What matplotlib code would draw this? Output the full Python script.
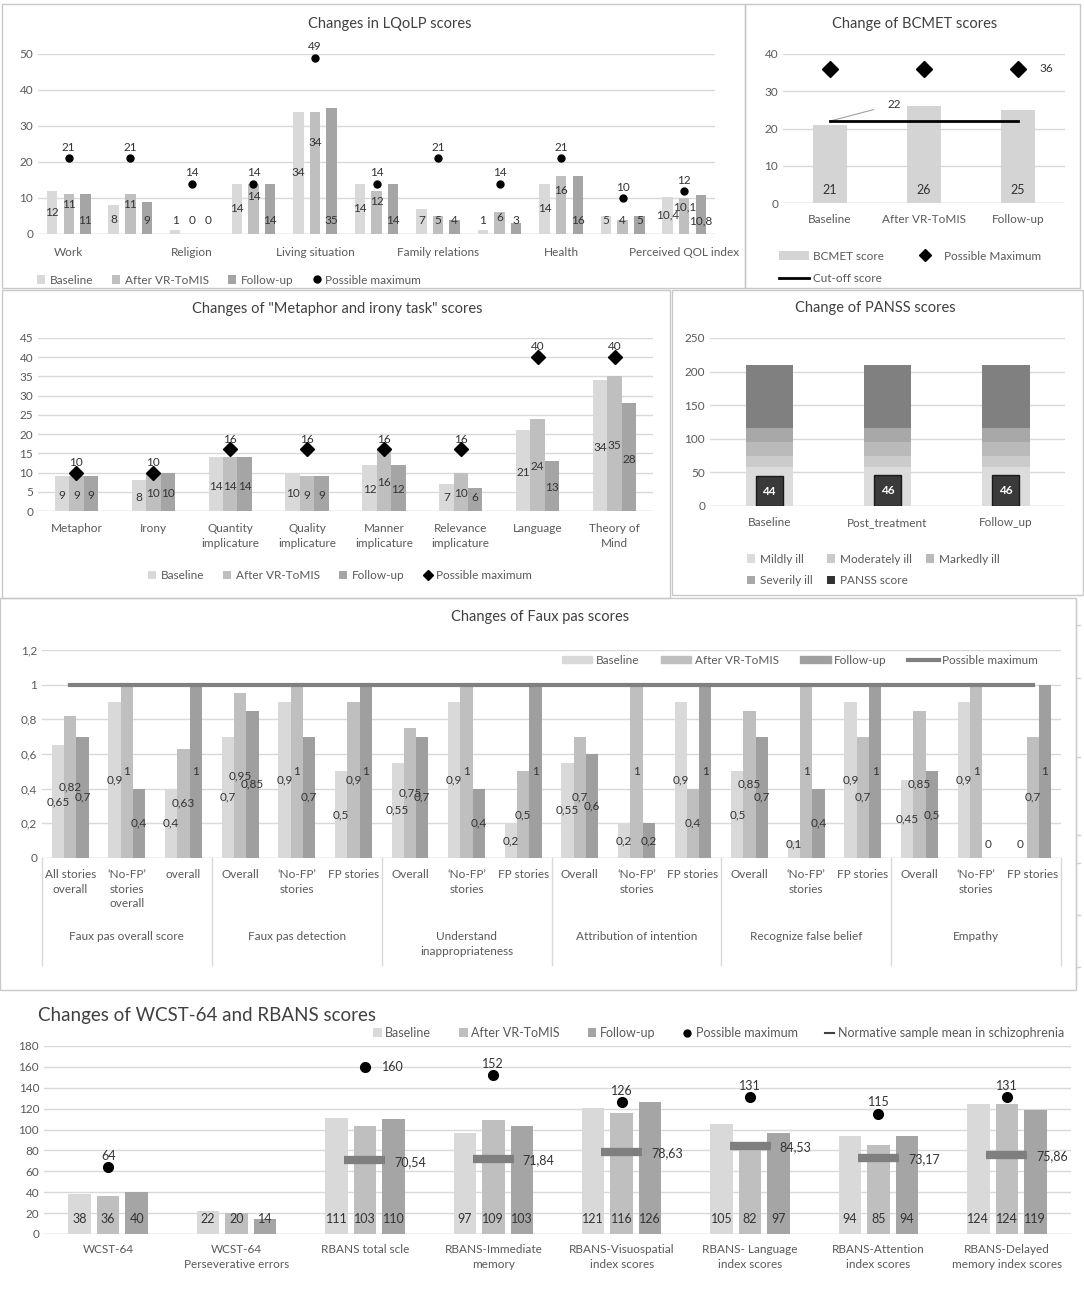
import numpy as np
import matplotlib
matplotlib.use('Agg')
import matplotlib.pyplot as plt
from matplotlib.patches import Rectangle, Patch
from matplotlib.lines import Line2D

plt.rcParams['font.family'] = ['Lato', 'DejaVu Sans']

# ---- data ----
lq_cats = ['Work', '', 'Religion', '', 'Living situation', '', 'Family relations', '', 'Health', '', 'Perceived QOL index']
lq_base = [12, 8, 1, 14, 34, 14, 7, 1, 14, 5, 10.4]
lq_after = [11, 11, 0, 14, 34, 12, 5, 6, 16, 4, 10.1]
lq_follow = [11, 9, 0, 14, 35, 14, 4, 3, 16, 5, 10.8]
lq_max = [21, 21, 14, 14, 49, 14, 21, 14, 21, 10, 12]

bc_cats = ['Baseline', 'After VR-ToMIS', 'Follow-up']
bc_score = [21, 26, 25]
bc_max = [36, 36, 36]
bc_cutoff = [22, 22, 22]

mi_cats = ['Metaphor', 'Irony', 'Quantity\nimplicature', 'Quality\nimplicature', 'Manner\nimplicature',
           'Relevance\nimplicature', 'Language', 'Theory of\nMind']
mi_base = [9, 8, 14, 10, 12, 7, 21, 34]
mi_after = [9, 10, 14, 9, 16, 10, 24, 35]
mi_follow = [9, 10, 14, 9, 12, 6, 13, 28]
mi_max = [10, 10, 16, 16, 16, 16, 40, 40]

pn_cats = ['Baseline', 'Post_treatment', 'Follow_up']
pn_mildly = [58, 58, 58]
pn_moderately = [17, 17, 17]
pn_markedly = [20, 20, 20]
pn_severely = [21, 21, 21]
pn_rest = [94, 94, 94]
pn_score = [44, 46, 46]

fp_groups = ['Faux pas overall score', 'Faux pas detection', 'Understand\ninappropriateness',
             'Attribution of intention', 'Recognize false belief', 'Empathy']
fp_sub = ['All stories\noverall', '\u2018No-FP\u2019\nstories\noverall', 'overall',
          'Overall', '\u2018No-FP\u2019\nstories', 'FP stories',
          'Overall', '\u2018No-FP\u2019\nstories', 'FP stories',
          'Overall', '\u2018No-FP\u2019\nstories', 'FP stories',
          'Overall', '\u2018No-FP\u2019\nstories', 'FP stories',
          'Overall', '\u2018No-FP\u2019\nstories', 'FP stories']
fp_base = [0.65, 0.9, 0.4, 0.7, 0.9, 0.5, 0.55, 0.9, 0.2, 0.55, 0.2, 0.9, 0.5, 0.1, 0.9, 0.45, 0.9, 0]
fp_after = [0.82, 1, 0.63, 0.95, 1, 0.9, 0.75, 1, 0.5, 0.7, 1, 0.4, 0.85, 1, 0.7, 0.85, 1, 0.7]
fp_follow = [0.7, 0.4, 1, 0.85, 0.7, 1, 0.7, 0.4, 1, 0.6, 0.2, 1, 0.7, 0.4, 1, 0.5, 0, 1]
fp_max = [1] * 18

wc_cats = ['WCST-64', 'WCST-64\nPerseverative errors', 'RBANS total scle', 'RBANS-Immediate\nmemory',
           'RBANS-Visuospatial\nindex scores', 'RBANS- Language\nindex scores',
           'RBANS-Attention\nindex scores', 'RBANS-Delayed\nmemory index scores']
wc_base = [38, 22, 111, 97, 121, 105, 94, 124]
wc_after = [36, 20, 103, 109, 116, 82, 85, 124]
wc_follow = [40, 14, 110, 103, 126, 97, 94, 119]
wc_max = [64, np.nan, 160, 152, 126, 131, 115, 131]
wc_norm = [np.nan, np.nan, 70.54, 71.84, 78.63, 84.53, 73.17, 75.86]

# ---- style ----
C_BASE = '#d9d9d9'
C_AFTER = '#bfbfbf'
C_FOLLOW = '#a5a5a5'
GRID = '#d9d9d9'
TXT = '#595959'
LAB = '#333333'
TITLE = '#404040'

W, H = 1084, 1309
fig = plt.figure(figsize=(W / 100, H / 100), dpi=100)


def fx(x):
    return x / W


def fy(y):
    return 1 - y / H


def add_ax(l, t, r, b):
    return fig.add_axes([l / W, 1 - b / H, (r - l) / W, (b - t) / H])


def box(l, t, r, b):
    fig.patches.append(Rectangle((fx(l), fy(b)), (r - l) / W, (b - t) / H, transform=fig.transFigure,
                                 fill=False, edgecolor='#c8c8c8', lw=1))


def style(ax, ymax, step, fs=8.5, fmt=None):
    ax.set_ylim(0, ymax)
    ticks = np.arange(0, ymax + step / 2, step)
    ax.set_yticks(ticks)
    if fmt:
        ax.set_yticklabels([fmt(t) for t in ticks])
    ax.yaxis.grid(True, color=GRID, lw=1)
    ax.set_axisbelow(True)
    for s in ax.spines.values():
        s.set_visible(False)
    ax.tick_params(length=0, labelsize=fs, colors=TXT)
    ax.axhline(0, color=GRID, lw=1, zorder=0.5)


def num(v):
    return ('%g' % v).replace('.', ',')


def sq(c):
    return Patch(facecolor=c, edgecolor='none')


# ---- panel borders ----
box(2, 4, 745, 288)
box(745, 4, 1080, 288)
box(2, 290, 670, 598)
box(672, 290, 1083, 595)
box(0, 598, 1076, 990)
fig.add_artist(Line2D([fx(1076), fx(1076)], [fy(600), fy(985)], color='#d0d0d0', lw=1))
for ty in [625, 678, 757, 835, 863, 915, 967]:
    fig.add_artist(Line2D([fx(1076), fx(1080)], [fy(ty), fy(ty)], color='#d0d0d0', lw=1))

# ---- LQoLP ----
ax = add_ax(38, 54, 715, 234)
style(ax, 50, 10)
x = np.arange(len(lq_cats))
bw, off = 0.17, 0.27
ax.bar(x - off, lq_base, bw, color=C_BASE)
ax.bar(x, lq_after, bw, color=C_AFTER)
ax.bar(x + off, lq_follow, bw, color=C_FOLLOW)
ax.plot(x, lq_max, 'o', color='black', ms=5, zorder=5)
for i in range(len(x)):
    ax.text(x[i] - off, max(lq_base[i] / 2, 3.7), num(lq_base[i]), ha='center', va='center', fontsize=8.5, color=LAB)
    ax.text(x[i], max(lq_after[i] * 0.75, 3.7), num(lq_after[i]), ha='center', va='center', fontsize=8.5, color=LAB)
    ax.text(x[i] + off, 3.7, num(lq_follow[i]), ha='center', va='center', fontsize=8.5, color=LAB)
    ax.text(x[i], lq_max[i] + 3, num(lq_max[i]), ha='center', va='center', fontsize=8.5, color=LAB)
ax.set_xlim(-0.5, len(x) - 0.5)
ax.set_xticks(x, lq_cats)
ax.tick_params(axis='x', pad=9)
fig.text(fx(390), fy(24), 'Changes in LQoLP scores', ha='center', va='center', fontsize=10.5, color=TITLE)
fig.legend([sq(C_BASE), sq(C_AFTER), sq(C_FOLLOW),
            Line2D([], [], marker='o', color='black', ls='', ms=5)],
           ['Baseline', 'After VR-ToMIS', 'Follow-up', 'Possible maximum'],
           loc='center left', bbox_to_anchor=(fx(26), fy(280)), ncol=4, frameon=False, fontsize=8.5,
           handlelength=0.7, handleheight=0.7, handletextpad=0.4, columnspacing=1.6, labelcolor=TXT)

# ---- BCMET ----
ax = add_ax(783, 54, 1065, 203)
style(ax, 40, 10)
x = np.arange(len(bc_cats))
ax.bar(x, bc_score, 0.37, color='#d4d4d4')
ax.plot(x, bc_cutoff, color='black', lw=2, zorder=4)
ax.plot(x, bc_max, 'D', color='black', ms=8, zorder=5)
for i in range(len(x)):
    ax.text(x[i], 3.4, num(bc_score[i]), ha='center', va='center', fontsize=9, color=LAB)
ax.text(x[-1] + 0.3, bc_max[-1], num(bc_max[-1]), ha='center', va='center', fontsize=8.5, color=LAB)
ax.annotate(num(bc_cutoff[0]), xy=(x[0], bc_cutoff[0]), xytext=(0.68, 26.5), fontsize=8.5, color=LAB,
            va='center', ha='center',
            arrowprops=dict(arrowstyle='-', color='#a0a0a0', lw=0.8, shrinkA=8, shrinkB=0))
ax.set_xlim(-0.5, 2.5)
ax.set_xticks(x, bc_cats)
ax.tick_params(axis='x', pad=8)
fig.text(fx(915), fy(24), 'Change of BCMET scores', ha='center', va='center', fontsize=10.5, color=TITLE)
fig.legend([sq('#d4d4d4'), Line2D([], [], color='black', lw=2),
            Line2D([], [], marker='D', color='black', ls='', ms=6)],
           ['BCMET score', 'Cut-off score', 'Possible Maximum'],
           loc='upper left', bbox_to_anchor=(fx(768), fy(240)), ncol=2, frameon=False, fontsize=8.5,
           handlelength=2.6, handleheight=0.8, handletextpad=0.3, columnspacing=2.2, labelspacing=1.0,
           labelcolor=TXT)

# ---- Metaphor and irony ----
ax = add_ax(38, 338, 653, 511)
style(ax, 45, 5)
x = np.arange(len(mi_cats))
bw = 0.187
ax.bar(x - bw, mi_base, bw, color=C_BASE)
ax.bar(x, mi_after, bw, color=C_AFTER)
ax.bar(x + bw, mi_follow, bw, color=C_FOLLOW)
ax.plot(x, mi_max, 'D', color='black', ms=7, zorder=5)
for i in range(len(x)):
    for dx, v in [(-bw, mi_base[i]), (0, mi_after[i]), (bw, mi_follow[i])]:
        ax.text(x[i] + dx, max(v / 2 - 0.5, 3.6), num(v), ha='center', va='center', fontsize=8.5, color=LAB)
    ax.text(x[i], mi_max[i] + 2.7, num(mi_max[i]), ha='center', va='center', fontsize=8.5, color=LAB)
ax.set_xlim(-0.5, len(x) - 0.5)
ax.set_xticks(x, mi_cats, linespacing=1.35)
ax.tick_params(axis='x', pad=9)
fig.text(fx(337), fy(309), 'Changes of "Metaphor and irony task" scores', ha='center', va='center',
         fontsize=10.5, color=TITLE)
fig.legend([sq(C_BASE), sq(C_AFTER), sq(C_FOLLOW),
            Line2D([], [], marker='D', color='black', ls='', ms=5)],
           ['Baseline', 'After VR-ToMIS', 'Follow-up', 'Possible maximum'],
           loc='center', bbox_to_anchor=(fx(340), fy(576)), ncol=4, frameon=False, fontsize=8.5,
           handlelength=0.7, handleheight=0.7, handletextpad=0.4, columnspacing=1.6, labelcolor=TXT)

# ---- PANSS ----
ax = add_ax(710, 338, 1065, 506)
style(ax, 250, 50)
x = np.arange(len(pn_cats))
sw = 0.40
bands = [(pn_mildly, '#dcdcdc'), (pn_moderately, '#cbcbcb'), (pn_markedly, '#bababa'),
         (pn_severely, '#a8a8a8'), (pn_rest, '#808080')]
bottom = np.zeros(len(x))
for vals, c in bands:
    ax.bar(x, vals, sw, bottom=bottom, color=c)
    bottom += np.array(vals)
ax.bar(x, pn_score, 0.23, color='#3a3a3a', edgecolor='#1a1a1a', lw=1, zorder=3)
for i in range(len(x)):
    ax.text(x[i], pn_score[i] / 2, num(pn_score[i]), ha='center', va='center', fontsize=8.5,
            color='white', fontweight='bold', zorder=4)
ax.set_xlim(-0.5, 2.5)
ax.set_xticks(x, pn_cats)
ax.tick_params(axis='x', pad=8)
fig.text(fx(875), fy(308), 'Change of PANSS scores', ha='center', va='center', fontsize=10.5, color=TITLE)
fig.legend([sq('#dcdcdc'), sq('#a8a8a8'), sq('#cbcbcb'), sq('#333333'), sq('#bababa')],
           ['Mildly ill', 'Severily ill', 'Moderately ill', 'PANSS score', 'Markedly ill'],
           loc='upper left', bbox_to_anchor=(fx(736), fy(543)), ncol=3, frameon=False, fontsize=8.5,
           handlelength=0.7, handleheight=0.7, handletextpad=0.4, columnspacing=1.2, labelspacing=0.9,
           labelcolor=TXT)

# ---- Faux pas ----
ax = add_ax(42, 650, 1061, 858)
style(ax, 1.2, 0.2, fmt=num)
x = np.arange(len(fp_sub))
bw = 0.217
ax.bar(x - bw, fp_base, bw, color=C_BASE)
ax.bar(x, fp_after, bw, color=C_AFTER)
ax.bar(x + bw, fp_follow, bw, color='#9f9f9f')
ax.plot(x, fp_max, color='#808080', lw=3, zorder=4)
for i in range(len(x)):
    for dx, v in [(-bw, fp_base[i]), (0, fp_after[i]), (bw, fp_follow[i])]:
        ax.text(x[i] + dx, max(v / 2, 0.08), num(v), ha='center', va='center', fontsize=8.5, color=LAB, zorder=6)
ax.set_xlim(-0.5, len(x) - 0.5)
ax.set_xticks(x, fp_sub, linespacing=1.4, va='top')
ax.tick_params(axis='x', pad=8)
trans = ax.get_xaxis_transform()
for g in range(len(fp_groups) + 1):
    xb = g * 3 - 0.5
    ax.plot([xb, xb], [0, -0.514], transform=trans, color=GRID, lw=1, clip_on=False)
for g, name in enumerate(fp_groups):
    ax.text(g * 3 + 1, -0.352, name, transform=trans, ha='center', va='top', fontsize=8.5,
            color=TXT, linespacing=1.4)
fig.text(fx(540), fy(617), 'Changes of Faux pas scores', ha='center', va='center', fontsize=10.5, color=TITLE)
fig.legend([Patch(color=C_BASE), Patch(color=C_AFTER), Patch(color='#9f9f9f'),
            Line2D([], [], color='#808080', lw=3)],
           ['Baseline', 'After VR-ToMIS', 'Follow-up', 'Possible maximum'],
           loc='center', bbox_to_anchor=(fx(800), fy(660)), ncol=4, frameon=False, fontsize=8.5,
           handlelength=2.6, handleheight=0.6, handletextpad=0.3, columnspacing=1.8, labelcolor=TXT)

# ---- WCST / RBANS ----
ax = add_ax(44, 1046, 1071, 1234)
style(ax, 180, 20)
x = np.arange(len(wc_cats))
bw, off = 0.175, 0.222
ax.bar(x - off, wc_base, bw, color=C_BASE)
ax.bar(x, wc_after, bw, color=C_AFTER)
ax.bar(x + off, wc_follow, bw, color=C_FOLLOW)
ax.plot(x, wc_max, 'o', color='black', ms=7, zorder=5)
norm = np.array(wc_norm)
ok = ~np.isnan(norm)
ax.hlines(norm[ok], x[ok] - 0.16, x[ok] + 0.16, color='#7f7f7f', lw=6, zorder=4)
for i in range(len(x)):
    for dx, v in [(-off, wc_base[i]), (0, wc_after[i]), (off, wc_follow[i])]:
        ax.text(x[i] + dx, 14, num(v), ha='center', va='center', fontsize=9, color=LAB)
    if not np.isnan(wc_max[i]):
        if wc_cats[i] == 'RBANS total scle':
            ax.text(x[i] + 0.13, wc_max[i], num(wc_max[i]), ha='left', va='center', fontsize=9, color=LAB)
        else:
            ax.text(x[i], wc_max[i] + 11, num(wc_max[i]), ha='center', va='center', fontsize=9, color=LAB)
    if not np.isnan(norm[i]):
        ax.text(x[i] + 0.23, norm[i] - 1.5, num(norm[i]), ha='left', va='center', fontsize=9, color=LAB, zorder=6)
ax.set_xlim(-0.5, len(x) - 0.5)
ax.set_xticks(x, wc_cats, linespacing=1.5)
ax.tick_params(axis='x', pad=7)
fig.text(fx(38), fy(1015), 'Changes of WCST-64 and RBANS scores', ha='left', va='center', fontsize=13.5,
         color=TITLE)
fig.legend([sq(C_BASE), sq(C_AFTER), sq(C_FOLLOW),
            Line2D([], [], marker='o', color='black', ls='', ms=5),
            Line2D([], [], color='#404040', lw=1.5)],
           ['Baseline', 'After VR-ToMIS', 'Follow-up', 'Possible maximum',
            'Normative sample mean in schizophrenia'],
           loc='center right', bbox_to_anchor=(fx(1075), fy(1033)), ncol=5, frameon=False, fontsize=9,
           handlelength=0.7, handleheight=0.7, handletextpad=0.3, columnspacing=2.2, labelcolor=TXT)

fig.savefig('out.png', dpi=100, facecolor='white')
